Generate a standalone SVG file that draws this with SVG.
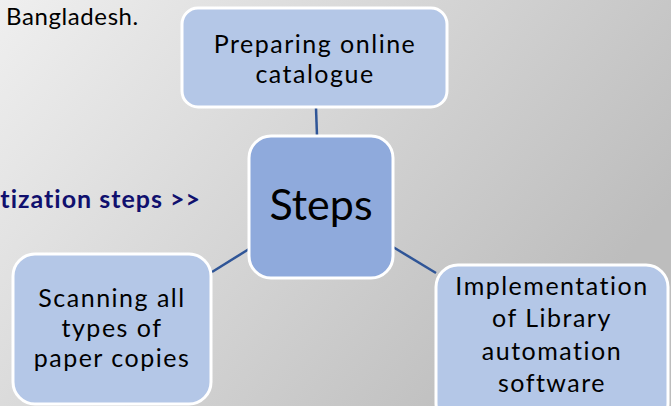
<svg xmlns="http://www.w3.org/2000/svg" width="671" height="406" viewBox="0 0 671 406">
<defs>
<linearGradient id="bg" x1="0" y1="0" x2="1" y2="0.5">
<stop offset="0" stop-color="#efefef"/>
<stop offset="1" stop-color="#bdbdbd"/>
</linearGradient>
<style>
text{font-variant-ligatures:none;font-feature-settings:"liga" 0}
.n{fill:#b4c7e7;stroke:#fff;stroke-width:3}
.c{fill:#8faadc;stroke:#fff;stroke-width:3}
.t{font-family:Lato,"Open Sans",sans-serif;font-size:25px;letter-spacing:1.5px;fill:#000;text-anchor:middle}
.e{stroke:#2f5597;stroke-width:2.5;fill:none}
</style>
</defs>
<rect width="671" height="406" fill="url(#bg)"/>
<text x="6" y="25" font-family="Lato, Open Sans, sans-serif" font-size="24" letter-spacing="0.6" fill="#000">Bangladesh.</text>
<text x="201" y="208" font-family="Lato, Open Sans, sans-serif" font-size="25" font-weight="bold" letter-spacing="1" fill="#10106e" text-anchor="end">tization steps &gt;&gt;</text>
<g id="connectors">
<line class="e" x1="316" y1="108" x2="317" y2="136"/>
<line class="e" x1="249" y1="249" x2="212" y2="272"/>
<line class="e" x1="393" y1="247" x2="436" y2="273"/>
</g>
<g id="top">
<rect class="n" x="182" y="8" width="265" height="99" rx="16"/>
<text class="t" x="315" y="53">Preparing online</text>
<text class="t" x="315" y="83">catalogue</text>
</g>
<g id="center">
<rect class="c" x="249" y="136" width="144" height="142" rx="22"/>
<text class="t" x="321" y="220" style="font-size:43px;letter-spacing:0">Steps</text>
</g>
<g id="left">
<rect class="n" x="13" y="254" width="198" height="150" rx="22"/>
<text class="t" x="112" y="307">Scanning all</text>
<text class="t" x="112" y="337">types of</text>
<text class="t" x="112" y="367">paper copies</text>
</g>
<g id="right">
<rect class="n" x="436" y="265" width="232" height="160" rx="22"/>
<text class="t" x="552" y="295">Implementation</text>
<text class="t" x="552" y="327">of Library</text>
<text class="t" x="552" y="360">automation</text>
<text class="t" x="552" y="392">software</text>
</g>
</svg>
